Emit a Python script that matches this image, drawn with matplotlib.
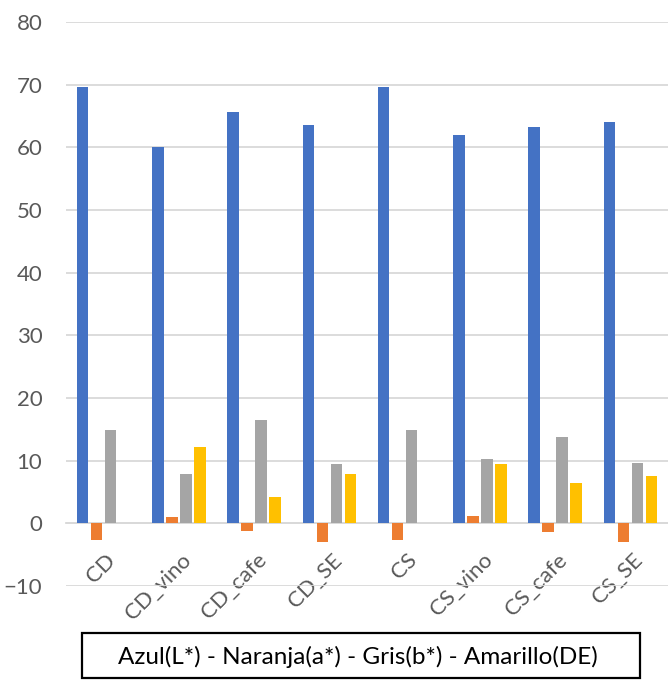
import matplotlib
matplotlib.use("Agg")
import matplotlib.pyplot as plt
import numpy as np
from matplotlib.patches import Rectangle
from matplotlib.transforms import ScaledTranslation

categories = ["CD", "CD_vino", "CD_cafe", "CD_SE", "CS", "CS_vino", "CS_cafe", "CS_SE"]
L_star = [69.6, 60.1, 65.7, 63.6, 69.6, 62.0, 63.3, 64.0]
a_star = [-2.7, 1.0, -1.3, -2.9, -2.6, 1.1, -1.4, -3.0]
b_star = [14.9, 7.8, 16.5, 9.5, 14.9, 10.3, 13.7, 9.7]
DE = [0.0, 12.2, 4.2, 7.9, 0.0, 9.5, 6.5, 7.5]
yticks = list(range(-10, 81, 10))
legend_text = "Azul(L*) - Naranja(a*) - Gris(b*) - Amarillo(DE)"

series = [L_star, a_star, b_star, DE]
colors = ["#4472C4", "#ED7D31", "#A5A5A5", "#FFC000"]

W, H = 668, 691
fig = plt.figure(figsize=(W / 100, H / 100), dpi=100)
ax = fig.add_axes([66 / W, 1 - 586 / H, (668 - 66) / W, (586 - 22) / H])

x = np.arange(len(categories))
step = 0.186
width = 0.15
for i, (vals, c) in enumerate(zip(series, colors)):
    ax.bar(x + (i - 1.5) * step, vals, width=width, color=c,
           edgecolor="none", zorder=3)

ax.set_xlim(-0.5, len(categories) - 0.5)
ax.set_ylim(-10, 80)
ax.set_yticks(yticks)
ax.yaxis.grid(True, color="#D9D9D9", linewidth=1.3, zorder=0)
ax.set_axisbelow(True)
for s in ["left", "right", "top"]:
    ax.spines[s].set_visible(False)
ax.spines["bottom"].set_position(("data", 0))
ax.spines["bottom"].set_color("#D9D9D9")
ax.spines["bottom"].set_linewidth(1.3)

font = "Lato"
ax.tick_params(axis="y", length=0, pad=17, labelsize=16, labelcolor="#595959")
for t in ax.get_yticklabels():
    t.set_fontfamily(font)
ax.set_xticks(x)
ax.set_xticklabels(categories, rotation=45, ha="right", va="top",
                   rotation_mode="anchor", fontsize=16, color="#595959",
                   fontfamily=font)
ax.tick_params(axis="x", length=0, pad=19)
offset = ScaledTranslation(2 / 100, 0, fig.dpi_scale_trans)
for t in ax.get_xticklabels():
    t.set_transform(t.get_transform() + offset)

fig.patches.append(Rectangle((82 / W, 1 - 678 / H), (640 - 82) / W, (678 - 633) / H,
                             transform=fig.transFigure, fill=False,
                             edgecolor="black", linewidth=1.6))
fig.text((82 + 640) / 2 / W - 0.005, 1 - 657 / H, legend_text, ha="center", va="center",
         fontsize=17.5, fontfamily=font, color="black")

fig.savefig("out.png", dpi=100)
